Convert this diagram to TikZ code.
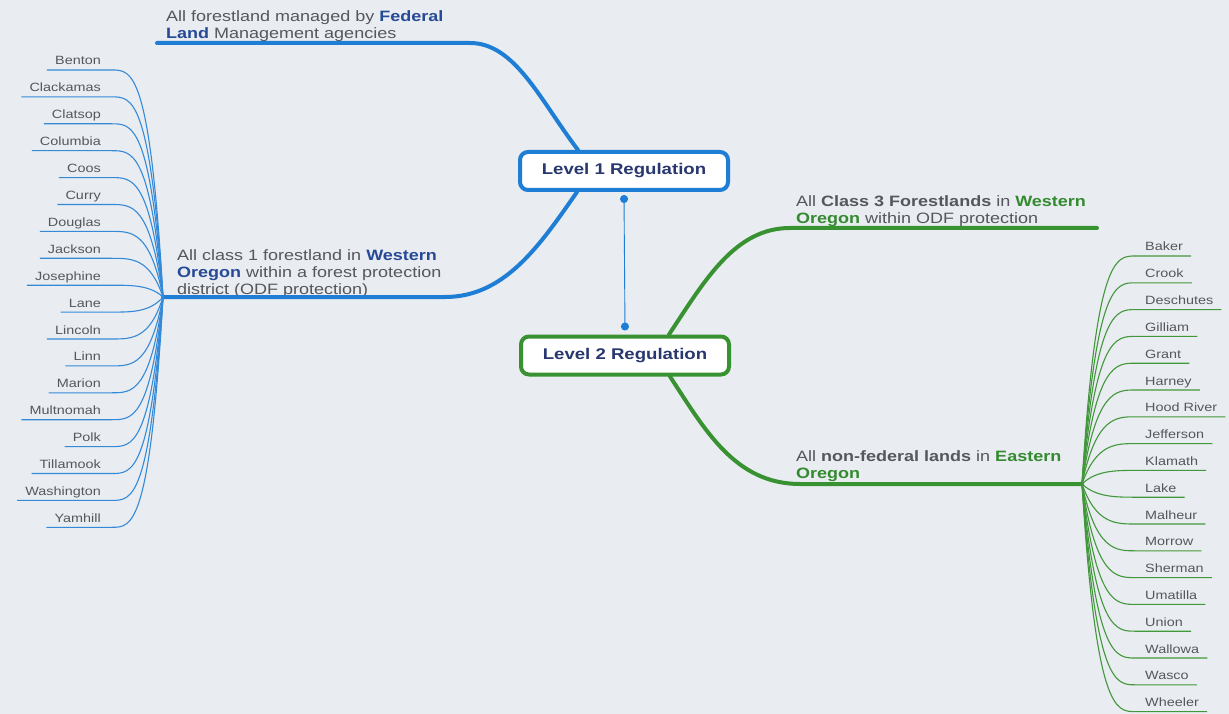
\documentclass[tikz,border=0pt]{standalone}
\usepackage{fontspec}
\setmainfont{Liberation Sans}[FakeStretch=1.2]
\usepackage{tikz}
\usetikzlibrary{arrows.meta}
\definecolor{paper}{RGB}{233,236,240}
\definecolor{oneblue}{RGB}{30,125,212}
\definecolor{twogreen}{RGB}{56,146,50}
\definecolor{inkgray}{RGB}{85,87,92}
\definecolor{inkblue}{RGB}{38,74,150}
\definecolor{inkgreen}{RGB}{52,138,48}
\definecolor{inknavy}{RGB}{40,55,110}

\begin{document}
\begin{tikzpicture}[x=1pt,y=-1pt,
	level/.style={draw,fill=white,line width=4pt,rounded corners=8pt,minimum width=208pt,minimum height=38pt,inner sep=0pt,font=\fontsize{15.5}{18}\selectfont\bfseries,text=inknavy},
	branchtext/.style={anchor=north west,inner sep=0pt,align=left,text=inkgray,font=\fontsize{15}{17}\selectfont},
	leaftext/.style={inner sep=0pt,text=inkgray,font=\fontsize{12}{14}\selectfont},
	bbranch/.style={draw=oneblue,line width=4pt,line cap=round},
	gbranch/.style={draw=twogreen,line width=4pt,line cap=round},
	bleaf/.style={draw=oneblue!90,line width=1.1pt},
	gleaf/.style={draw=twogreen!95,line width=1.1pt}]
			\fill[paper] (0,0) rectangle (1229,714);
			\useasboundingbox (0,0) rectangle (1229,714);
			
			\coordinate (fedend) at (157,43);
			\coordinate (hw) at (163,297);
			\coordinate (c3end) at (1097,228);
			\coordinate (he) at (1082,484);
			
			\node (l1) at (624,171) [level,draw=oneblue] {Level 1 Regulation};
			\node (l2) at (625,355.5) [level,draw=twogreen] {Level 2 Regulation};
			
			\node (fedtxt) at (166,10) [branchtext] {All forestland managed by \textcolor{inkblue}{\bfseries Federal}\\\textcolor{inkblue}{\bfseries Land} Management agencies};
			\node (wtxt) at (177,249) [branchtext] {All class 1 forestland in \textcolor{inkblue}{\bfseries Western}\\\textcolor{inkblue}{\bfseries Oregon} within a forest protection\\district (ODF protection)};
			\node (c3txt) at (796,195) [branchtext] {All \textbf{Class 3 Forestlands} in \textcolor{inkgreen}{\bfseries Western}\\\textcolor{inkgreen}{\bfseries Oregon} within ODF protection};
			\node (eotxt) at (796,450) [branchtext] {All \textbf{non-federal lands} in \textcolor{inkgreen}{\bfseries Eastern}\\\textcolor{inkgreen}{\bfseries Oregon}};
			
			\draw[bbranch] ([xshift=60pt]l1.north west) .. controls (540,100) and (515,43) .. (470,43) -- (fedend);
			\draw[bbranch] ([xshift=59pt]l1.south west) .. controls (540,245) and (505,297) .. (445,297) -- (hw);
			\draw[gbranch] ([xshift=150pt]l2.north west) .. controls (705,280) and (735,228) .. (790,228) -- (c3end);
			\draw[gbranch] ([xshift=151pt]l2.south west) .. controls (705,430) and (735,484) .. (800,484) -- (he);
			\draw[draw=oneblue,line width=0.9pt,{Circle[length=8pt]}-{Circle[length=8pt]}] ([yshift=-3pt]l1.south) -- ([yshift=4pt]l2.north);
			
			\foreach \n [count=\i, evaluate=\i as \y using 61+26.9*(\i-1)] in {Benton,Clackamas,Clatsop,Columbia,Coos,Curry,Douglas,Jackson,Josephine,Lane,Lincoln,Linn,Marion,Multnomah,Polk,Tillamook,Washington,Yamhill}{
				\node (w\i) at (101,\y+4) [leaftext,anchor=base east] {\n};
				\draw[bleaf] (hw) .. controls (150,\y+9) and (132,\y+9) .. (112,\y+9) -- ([xshift=-8pt,yshift=-5pt]w\i.base west);
			}
			\foreach \n [count=\i, evaluate=\i as \y using 247+26.8*(\i-1)] in {Baker,Crook,Deschutes,Gilliam,Grant,Harney,Hood River,Jefferson,Klamath,Lake,Malheur,Morrow,Sherman,Umatilla,Union,Wallowa,Wasco,Wheeler}{
				\node (e\i) at (1145,\y+4) [leaftext,anchor=base west] {\n};
				\draw[gleaf] (he) .. controls (1096,\y+9) and (1116,\y+9) .. (1135,\y+9) -- ([xshift=8pt,yshift=-5pt]e\i.base east);
			}
		\end{tikzpicture}
\end{document}
